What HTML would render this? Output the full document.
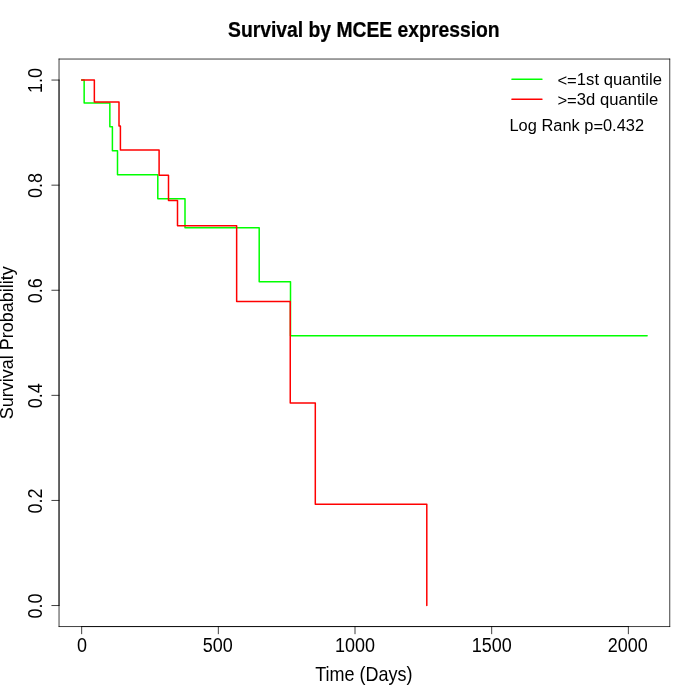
<!DOCTYPE html>
<html><head><meta charset="utf-8"><title>Survival by MCEE expression</title>
<style>html,body{margin:0;padding:0;background:#fff}svg{display:block}text{font-family:"Liberation Sans",Arial,Helvetica,sans-serif;fill:#000}</style></head><body>
<svg width="700" height="700" viewBox="0 0 700 700">
<rect width="700" height="700" fill="#fff"/>
<g fill="none" stroke-linecap="round" stroke-linejoin="round" stroke-width="1.5">
<path d="M81.66,80.06 H84.15 V102.91 H109.85 V126.84 H112.40 V150.78 H117.50 V174.71 H157.80 V198.65 H185.00 V227.71 H259.20 V281.69 H290.50 V335.66 H647.14" stroke="#00ff00"/>
<path d="M81.66,80.06 H94.35 V101.95 H119.00 V125.94 H120.40 V149.92 H159.10 V175.23 H168.50 V200.54 H177.50 V225.85 H236.65 V301.60 H290.25 V403.04 H315.30 V504.29 H426.80 V605.54" stroke="#ff0000"/>
</g>
<g fill="none" stroke="#000" stroke-width="0.75" stroke-linecap="round" stroke-linejoin="round">
<path d="M81.66,626.56 H628.36"/>
<path d="M81.66,626.56 v7.2"/>
<path d="M218.33,626.56 v7.2"/>
<path d="M355.01,626.56 v7.2"/>
<path d="M491.68,626.56 v7.2"/>
<path d="M628.36,626.56 v7.2"/>
<path d="M59.04,605.54 V80.06"/>
<path d="M59.04,605.54 h-7.2"/>
<path d="M59.04,500.44 h-7.2"/>
<path d="M59.04,395.35 h-7.2"/>
<path d="M59.04,290.25 h-7.2"/>
<path d="M59.04,185.16 h-7.2"/>
<path d="M59.04,80.06 h-7.2"/>
<path d="M59.04,626.56 H669.76"/><path d="M669.76,626.56 V59.04"/><path d="M669.76,59.04 H59.04"/><path d="M59.04,59.04 V626.56"/>
</g>
<text transform="translate(81.96,652.35) scale(1.0000,1.0770)" font-size="18" text-anchor="middle">0</text>
<text transform="translate(217.83,652.35) scale(1.0000,1.0770)" font-size="18" text-anchor="middle">500</text>
<text transform="translate(355.01,652.35) scale(1.0000,1.0770)" font-size="18" text-anchor="middle">1000</text>
<text transform="translate(491.68,652.35) scale(1.0000,1.0770)" font-size="18" text-anchor="middle">1500</text>
<text transform="translate(627.66,652.35) scale(1.0000,1.0770)" font-size="18" text-anchor="middle">2000</text>
<text transform="translate(41.80,605.99) rotate(-90) scale(1.0000,1.0770)" font-size="18" text-anchor="middle">0.0</text>
<text transform="translate(41.80,500.89) rotate(-90) scale(1.0000,1.0770)" font-size="18" text-anchor="middle">0.2</text>
<text transform="translate(41.80,395.80) rotate(-90) scale(1.0000,1.0770)" font-size="18" text-anchor="middle">0.4</text>
<text transform="translate(41.80,290.70) rotate(-90) scale(1.0000,1.0770)" font-size="18" text-anchor="middle">0.6</text>
<text transform="translate(41.80,185.61) rotate(-90) scale(1.0000,1.0770)" font-size="18" text-anchor="middle">0.8</text>
<text transform="translate(41.80,80.51) rotate(-90) scale(1.0000,1.0770)" font-size="18" text-anchor="middle">1.0</text>
<text transform="translate(363.80,680.70) scale(1.0000,1.0770)" font-size="18" text-anchor="middle">Time (Days)</text>
<text transform="translate(12.90,342.80) rotate(-90) scale(1.0000,1.0300)" font-size="18" text-anchor="middle">Survival Probability</text>
<text transform="translate(363.80,36.80) scale(1.0000,1.1300)" font-size="19.33" text-anchor="middle" font-weight="bold" stroke="#000" stroke-width="0.2">Survival by MCEE expression</text>
<g fill="none" stroke-linecap="round" stroke-width="1.5"><path d="M511.95,79.16 H541.95" stroke="#00ff00"/><path d="M511.95,99.2 H541.95" stroke="#ff0000"/></g>
<text transform="translate(557.40,84.70) scale(1.0000,1.0400)" font-size="16.65" text-anchor="start"><tspan dy="1.7">&lt;=</tspan><tspan dy="-1.7">1st quantile</tspan></text>
<text transform="translate(557.40,104.70) scale(1.0000,1.0400)" font-size="16.65" text-anchor="start"><tspan dy="1.7">&gt;=</tspan><tspan dy="-1.7">3d quantile</tspan></text>
<text transform="translate(509.50,130.86) scale(1.0000,1.0250)" font-size="16.42" text-anchor="start">Log Rank p<tspan dy="0.7">=</tspan><tspan dy="-0.7">0.432</tspan></text>
</svg></body></html>
